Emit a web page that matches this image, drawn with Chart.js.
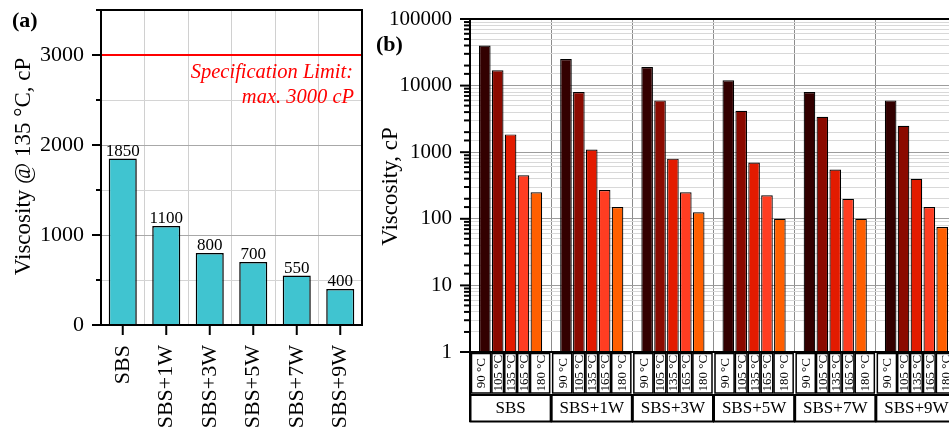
<!DOCTYPE html>
<html><head><meta charset="utf-8">
<script src="https://cdn.jsdelivr.net/npm/chart.js@4"></script>
<style>
html,body{margin:0;padding:0;background:#fff;overflow:hidden;width:949px;height:432px;position:relative;}
#ca{position:absolute;left:0;top:0;}
#cb{position:absolute;left:370px;top:0;}
</style></head><body>
<canvas id="ca" width="370" height="432"></canvas>
<canvas id="cb" width="600" height="432"></canvas>
<script>
// ---- data ----
const blends = ['SBS','SBS+1W','SBS+3W','SBS+5W','SBS+7W','SBS+9W'];
const visc135 = [1850,1100,800,700,550,400];
const specLimit = 3000;
const temps = ['90 °C','105 °C','135 °C','165 °C','180 °C'];
const v90  = [40000,25000,19000,12000,8000,6000];
const v105 = [17000,8000,6000,4200,3400,2500];
const v135 = [1850,1100,800,700,550,400];
const v165 = [450,270,250,225,200,150];
const v180 = [250,150,125,100,100,75];
const decadeTicks = [1,10,100,1000,10000,100000];

const SERIF = "'Liberation Serif','Times New Roman',serif";
Chart.defaults.font.family = SERIF;
Chart.defaults.color = '#000';

function zeroPad(s){ s.paddingTop = 0; s.paddingBottom = 0; s.paddingLeft = 0; s.paddingRight = 0; }

// ---- panel (a) ----
const plugA = {
  id:'plugA',
  afterDatasetsDraw(chart){
    const {ctx, chartArea:a, scales:{x,y}} = chart;
    ctx.save();
    const ys = y.getPixelForValue(specLimit);
    ctx.strokeStyle = '#FF0000'; ctx.lineWidth = 2;
    ctx.beginPath(); ctx.moveTo(a.left, ys); ctx.lineTo(a.right, ys); ctx.stroke();
    ctx.fillStyle = '#FF0000';
    ctx.font = 'italic 20.5px ' + SERIF;
    ctx.textAlign = 'right'; ctx.textBaseline = 'middle';
    ctx.fillText('Specification Limit:', a.right - 9, ys + 18);
    ctx.fillText('max. ' + specLimit + ' cP', a.right - 8, ys + 43);
    ctx.strokeStyle = '#000'; ctx.lineWidth = 2;
    ctx.strokeRect(a.left, a.top, a.right - a.left, a.bottom - a.top);
    y.ticks.forEach(t => {
      const py = y.getPixelForValue(t.value);
      const len = t.value % 1000 === 0 ? 9 : 5;
      ctx.beginPath(); ctx.moveTo(a.left - len, py); ctx.lineTo(a.left, py); ctx.stroke();
    });
    const meta = chart.getDatasetMeta(0);
    ctx.fillStyle = '#000'; ctx.font = '17px ' + SERIF;
    ctx.textAlign = 'center'; ctx.textBaseline = 'alphabetic';
    meta.data.forEach((el, i) => {
      ctx.beginPath(); ctx.moveTo(el.x, a.bottom); ctx.lineTo(el.x, a.bottom + 10); ctx.stroke();
      ctx.fillText(String(visc135[i]), el.x, el.y - 3);
    });
    ctx.save();
    ctx.translate(24, (a.top + a.bottom) / 2 - 1);
    ctx.rotate(-Math.PI / 2);
    ctx.font = '23px ' + SERIF; ctx.textBaseline = 'middle';
    ctx.fillText('Viscosity @ 135 °C, cP', 0, 0);
    ctx.restore();
    ctx.font = 'bold 22px ' + SERIF; ctx.textAlign = 'left'; ctx.textBaseline = 'middle';
    ctx.fillText('(a)', 12, 21);
    ctx.restore();
  }
};

new Chart(document.getElementById('ca'), {
  type:'bar',
  data:{ labels: blends, datasets:[{ data: visc135, backgroundColor:'#40C4D0', borderColor:'#000', borderWidth:1.5,
    categoryPercentage:1, barPercentage:0.645 }] },
  options:{
    responsive:false, animation:false, devicePixelRatio:1,
    layout:{ padding:{ top:10, right:8, left:0, bottom:0 } },
    plugins:{ legend:{display:false}, tooltip:{enabled:false} },
    scales:{
      x:{ grid:{ color:'#d0d0d0', drawTicks:false, offset:true }, border:{display:false},
          ticks:{ minRotation:90, maxRotation:90, padding:20, font:{size:22, family:SERIF}, color:'#000' },
          afterFit(s){ s.height = 107; zeroPad(s); } },
      y:{ min:0, max:3500, border:{display:false},
          grid:{ drawTicks:false, color: c => (c.tick && c.tick.value % 1000 === 0) ? '#a8a8a8' : '#d4d4d4' },
          ticks:{ stepSize:500, padding:17, font:{size:22, family:SERIF}, color:'#000',
                  callback: v => v % 1000 === 0 ? String(v) : '' },
          afterFit(s){ s.width = 101; zeroPad(s); } }
    }
  },
  plugins:[plugA]
});

// ---- panel (b) ----
const seriesB = [v90, v105, v135, v165, v180];
const tempColors = ['#330000','#8B0A00','#E31B00','#FF3D22','#FF5F00'];

const plugB = {
  id:'plugB',
  afterDatasetsDraw(chart){
    const {ctx, chartArea:a, scales:{x,y}} = chart;
    ctx.save();
    ctx.strokeStyle = '#000';
    ctx.lineWidth = 2;
    y.ticks.forEach(t => {
      const py = y.getPixelForValue(t.value);
      const major = decadeTicks.includes(t.value);
      const len = major ? 10 : 6;
      ctx.beginPath(); ctx.moveTo(a.left - len, py); ctx.lineTo(a.left, py); ctx.stroke();
    });
    ctx.beginPath(); ctx.moveTo(a.left - 10, a.top); ctx.lineTo(a.right, a.top); ctx.stroke();
    ctx.beginPath(); ctx.moveTo(a.left - 10, a.bottom); ctx.lineTo(a.right, a.bottom); ctx.stroke();
    ctx.beginPath(); ctx.moveTo(a.left, a.top); ctx.lineTo(a.left, a.bottom + 70); ctx.stroke();
    ctx.beginPath(); ctx.moveTo(a.right, a.top); ctx.lineTo(a.right, a.bottom + 70); ctx.stroke();
    const slot = (a.right - a.left) / blends.length;
    blends.forEach((b, j) => {
      const gL = a.left + slot * j, gR = gL + slot;
      seriesB.forEach((s, i) => {
        const el = chart.getDatasetMeta(i).data[j];
        const l = i === 0 ? gL + 1.5 : el.x - el.width / 2;
        const r = i === seriesB.length - 1 ? gR - 1.5 : el.x + el.width / 2;
        const t = a.bottom + 1.5, btm = a.bottom + 41;
        ctx.lineWidth = 1.5;
        ctx.strokeRect(l, t, r - l, btm - t);
        ctx.save();
        ctx.translate((l + r) / 2, (t + btm) / 2);
        ctx.rotate(-Math.PI / 2);
        ctx.fillStyle = '#000'; ctx.font = '13px ' + SERIF;
        ctx.textAlign = 'center'; ctx.textBaseline = 'middle';
        ctx.fillText(temps[i], 0, 1);
        ctx.restore();
      });
      ctx.lineWidth = 2;
      ctx.strokeRect(gL + 0.5, a.bottom + 43, slot - 1, 26.5);
      ctx.fillStyle = '#000'; ctx.font = '17px ' + SERIF;
      ctx.textAlign = 'center'; ctx.textBaseline = 'middle';
      ctx.fillText(b, (gL + gR) / 2, a.bottom + 57);
    });
    ctx.save();
    ctx.translate(21, (a.top + a.bottom) / 2 + 1);
    ctx.rotate(-Math.PI / 2);
    ctx.fillStyle = '#000'; ctx.font = '23px ' + SERIF;
    ctx.textAlign = 'center'; ctx.textBaseline = 'middle';
    ctx.fillText('Viscosity, cP', 0, 0);
    ctx.restore();
    ctx.fillStyle = '#000'; ctx.font = 'bold 22px ' + SERIF;
    ctx.textAlign = 'left'; ctx.textBaseline = 'middle';
    ctx.fillText('(b)', 6, 45);
    ctx.restore();
  }
};

new Chart(document.getElementById('cb'), {
  type:'bar',
  data:{ labels: blends,
    datasets: seriesB.map((s, i) => ({ label: temps[i], data: s, backgroundColor: tempColors[i],
      borderColor:'#000', borderWidth:1.2, categoryPercentage:0.794, barPercentage:0.9 })) },
  options:{
    responsive:false, animation:false, devicePixelRatio:1,
    layout:{ padding:{ top:19, right:13, left:0, bottom:0 } },
    plugins:{ legend:{display:false}, tooltip:{enabled:false} },
    scales:{
      x:{ grid:{ color:'#8c8c8c', drawTicks:false, offset:true }, border:{display:false},
          ticks:{ display:false },
          afterFit(s){ s.height = 80; zeroPad(s); } },
      y:{ type:'logarithmic', min:1, max:100000, border:{display:false},
          grid:{ drawTicks:false, color: c => (c.tick && decadeTicks.includes(c.tick.value)) ? '#9c9c9c' : '#d8d8d8' },
          ticks:{ autoSkip:false, padding:18, font:{size:21, family:SERIF}, color:'#000',
                  callback: v => decadeTicks.includes(v) ? String(v) : '' },
          afterFit(s){ s.width = 100; zeroPad(s); } }
    }
  },
  plugins:[plugB]
});
</script>
</body></html>
